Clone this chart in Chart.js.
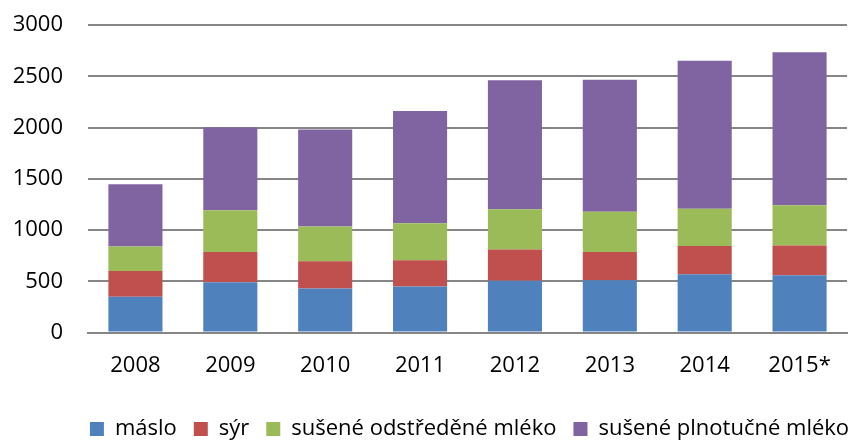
<!DOCTYPE html>
<html>
<head>
<meta charset="utf-8">
<script src="https://cdn.jsdelivr.net/npm/chart.js@4/dist/chart.umd.min.js"></script>
<style>
  html, body { margin: 0; padding: 0; background: #ffffff; }
  #wrap { width: 863px; height: 441px; position: relative; }
</style>
</head>
<body>
<div id="wrap"><canvas id="c" width="863" height="441"></canvas></div>
<script>
const categories = ["2008", "2009", "2010", "2011", "2012", "2013", "2014", "2015*"];
const seriesNames = ["máslo", "sýr", "sušené odstředěné mléko", "sušené plnotučné mléko"];
const maslo = [350, 490, 430, 450, 505, 510, 570, 560];
const syr = [250, 295, 265, 255, 305, 277, 275, 290];
const suseneOdstredene = [240, 408, 340, 362, 392, 392, 363, 392];
const susenePlnotucne = [607, 810, 947, 1095, 1258, 1287, 1443, 1493];
const yTicks = [0, 500, 1000, 1500, 2000, 2500, 3000];

const colors = ["#4F81BD", "#C0504D", "#9BBB59", "#8064A2"];
const values = [maslo, syr, suseneOdstredene, susenePlnotucne];
const FONT = "'Open Sans', 'Noto Sans', sans-serif";

const legendShift = {
  id: 'legendShift',
  beforeDraw(chart) {
    const lg = chart.legend;
    if (lg && !lg._shifted) {
      lg.left += 46; lg.right += 46;
      lg.top += 2; lg.bottom += 2;
      lg._shifted = true;
    }
  }
};

new Chart(document.getElementById('c'), {
  type: 'bar',
  data: {
    labels: categories,
    datasets: values.map((v, i) => ({
      label: seriesNames[i],
      data: v,
      backgroundColor: colors[i],
      borderWidth: 0,
      categoryPercentage: 0.57,
      barPercentage: 1.0
    }))
  },
  plugins: [legendShift],
  options: {
    responsive: false,
    animation: false,
    devicePixelRatio: 1,
    layout: { padding: { top: 25, right: 16, left: 0, bottom: -7 } },
    plugins: {
      legend: {
        position: 'bottom',
        align: 'center',
        labels: {
          font: { family: FONT, size: 22 },
          color: '#000000',
          boxWidth: 14,
          boxHeight: 14,
          padding: 17
        }
      },
      tooltip: { enabled: false }
    },
    scales: {
      x: {
        stacked: true,
        grid: { display: false, drawTicks: false },
        border: { display: true, color: '#868686', width: 2 },
        ticks: { font: { family: FONT, size: 22 }, color: '#000000', padding: 20 },
        afterFit(scale) { scale.paddingLeft = 0; scale.paddingRight = 0; }
      },
      y: {
        stacked: true,
        min: 0,
        max: 3000,
        afterBuildTicks(scale) { scale.ticks = yTicks.map(v => ({ value: v })); },
        afterFit(scale) { scale.width = 88; scale.paddingTop = 0; scale.paddingBottom = 0; },
        grid: { color: '#868686', lineWidth: 2, drawTicks: false },
        border: { display: false },
        ticks: {
          font: { family: FONT, size: 22 }, color: '#000000', padding: 25,
          callback: (v) => String(v)
        }
      }
    }
  }
});
</script>
</body>
</html>
